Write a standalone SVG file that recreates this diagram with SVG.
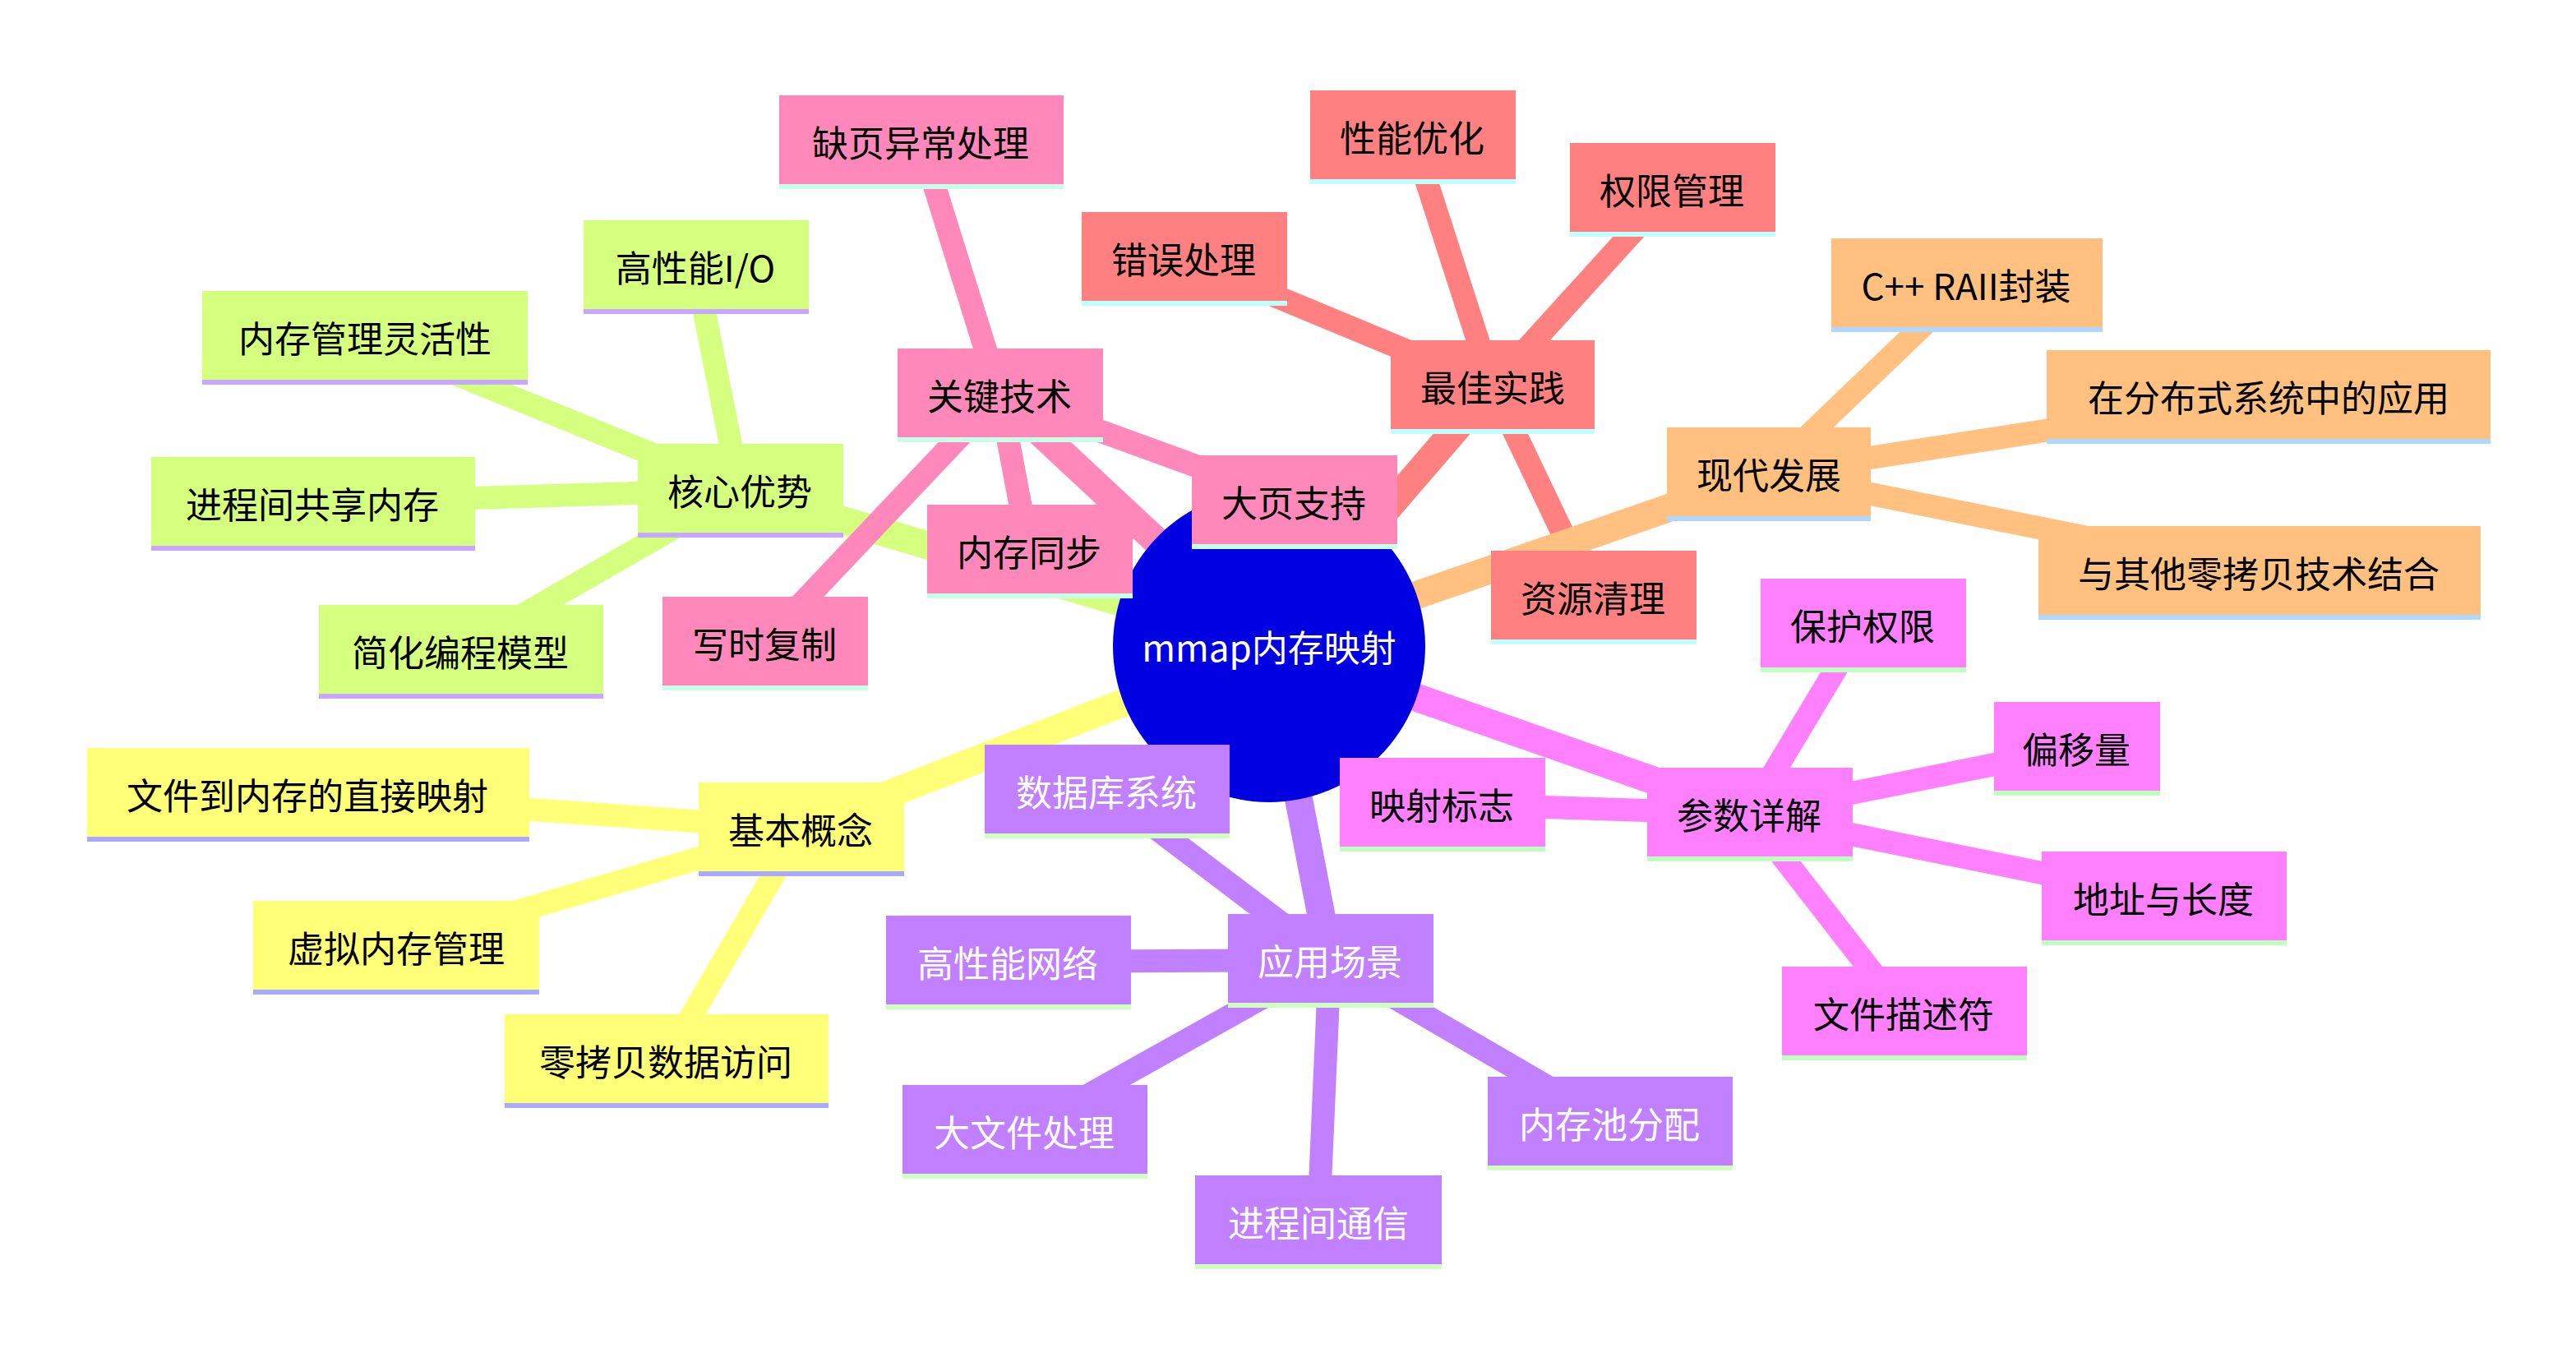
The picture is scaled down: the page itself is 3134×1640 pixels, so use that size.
<svg xmlns="http://www.w3.org/2000/svg" width="3134" height="1640" viewBox="0 0 3134 1640">
<style>
text{font-family:"Noto Sans CJK SC","Noto Sans",sans-serif;font-size:22px;text-anchor:middle;dominant-baseline:central;fill:#000}
.w{fill:#fff}
.e{fill:none;stroke-linecap:round}
.m{stroke-width:17}
.s{stroke-width:14}
</style>
<rect width="3134" height="1640" fill="#fff"/>
<g transform="scale(2)">
<g id="connectors">
<g stroke="#ffff78" class="e"><path class="m" d="M772,393L487,504"/><path class="s" d="M487,504L187,483M487,504L241,576M487,504L405,645"/></g>
<g stroke="#d4ff7f" class="e"><path class="m" d="M772,393L450,298"/><path class="s" d="M450,298L423,162M450,298L222,205M450,298L190,306M450,298L280,396"/></g>
<g stroke="#ff88bb" class="e"><path class="m" d="M772,393L608,240"/><path class="s" d="M608,240L560,86M608,240L626,335M608,240L465,391M608,240L787,305"/></g>
<g stroke="#ff8080" class="e"><path class="m" d="M772,393L908,235"/><path class="s" d="M908,235L720,157M908,235L859,83M908,235L1017,115M908,235L969,363"/></g>
<g stroke="#ffc080" class="e"><path class="m" d="M772,393L1076,288"/><path class="s" d="M1076,288L1196,173M1076,288L1380,241M1076,288L1374,348"/></g>
<g stroke="#ff80ff" class="e"><path class="m" d="M772,393L1064,495"/><path class="s" d="M1064,495L1133,380M1064,495L1263,455M1064,495L1316,546M1064,495L1158,616M1064,495L877,489"/></g>
<g stroke="#c080ff" class="e"><path class="m" d="M772,393L809,584"/><path class="s" d="M809,584L673,481M809,584L613,585M809,584L623,688M809,584L802,743M809,584L979,683"/></g>
</g>
<g id="center"><circle cx="772" cy="393" r="95" fill="#0000e0"/><text x="772" y="393" class="w">mmap内存映射</text></g>
<g id="yellow" fill="#ffff78">
<g id="n1"><rect x="425" y="476" width="125" height="56"/><rect x="425" y="530" width="125" height="3" fill="#aaaaff"/><text x="487" y="504">基本概念</text></g>
<g id="n1a"><rect x="53" y="455" width="269" height="56"/><rect x="53" y="509" width="269" height="3" fill="#aaaaff"/><text x="187" y="483">文件到内存的直接映射</text></g>
<g id="n1b"><rect x="154" y="548" width="174" height="56"/><rect x="154" y="602" width="174" height="3" fill="#aaaaff"/><text x="241" y="576">虚拟内存管理</text></g>
<g id="n1c"><rect x="307" y="617" width="197" height="56"/><rect x="307" y="671" width="197" height="3" fill="#aaaaff"/><text x="405" y="645">零拷贝数据访问</text></g>
</g>
<g id="green" fill="#d4ff7f">
<g id="n2"><rect x="388" y="270" width="125" height="56"/><rect x="388" y="324" width="125" height="3" fill="#c8a8ff"/><text x="450" y="298">核心优势</text></g>
<g id="n2a"><rect x="355" y="134" width="137" height="56"/><rect x="355" y="188" width="137" height="3" fill="#c8a8ff"/><text x="423" y="162">高性能I/O</text></g>
<g id="n2b"><rect x="123" y="177" width="198" height="56"/><rect x="123" y="231" width="198" height="3" fill="#c8a8ff"/><text x="222" y="205">内存管理灵活性</text></g>
<g id="n2c"><rect x="92" y="278" width="197" height="56"/><rect x="92" y="332" width="197" height="3" fill="#c8a8ff"/><text x="190" y="306">进程间共享内存</text></g>
<g id="n2d"><rect x="194" y="368" width="173" height="56"/><rect x="194" y="422" width="173" height="3" fill="#c8a8ff"/><text x="280" y="396">简化编程模型</text></g>
</g>
<g id="pink" fill="#ff88bb">
<g id="n3"><rect x="546" y="212" width="125" height="56"/><rect x="546" y="266" width="125" height="3" fill="#c8ffe8"/><text x="608" y="240">关键技术</text></g>
<g id="n3a"><rect x="474" y="58" width="173" height="56"/><rect x="474" y="112" width="173" height="3" fill="#c8ffe8"/><text x="560" y="86">缺页异常处理</text></g>
<g id="n3b"><rect x="564" y="307" width="125" height="56"/><rect x="564" y="361" width="125" height="3" fill="#c8ffe8"/><text x="626" y="335">内存同步</text></g>
<g id="n3c"><rect x="403" y="363" width="125" height="56"/><rect x="403" y="417" width="125" height="3" fill="#c8ffe8"/><text x="465" y="391">写时复制</text></g>
<g id="n3d"><rect x="725" y="277" width="125" height="56"/><rect x="725" y="331" width="125" height="3" fill="#c8ffe8"/><text x="787" y="305">大页支持</text></g>
</g>
<g id="salmon" fill="#ff8080">
<g id="n4"><rect x="846" y="207" width="124" height="56"/><rect x="846" y="261" width="124" height="3" fill="#c0ffff"/><text x="908" y="235">最佳实践</text></g>
<g id="n4a"><rect x="658" y="129" width="125" height="56"/><rect x="658" y="183" width="125" height="3" fill="#c0ffff"/><text x="720" y="157">错误处理</text></g>
<g id="n4b"><rect x="797" y="55" width="125" height="56"/><rect x="797" y="109" width="125" height="3" fill="#c0ffff"/><text x="859" y="83">性能优化</text></g>
<g id="n4c"><rect x="955" y="87" width="125" height="56"/><rect x="955" y="141" width="125" height="3" fill="#c0ffff"/><text x="1017" y="115">权限管理</text></g>
<g id="n4d"><rect x="907" y="335" width="125" height="56"/><rect x="907" y="389" width="125" height="3" fill="#c0ffff"/><text x="969" y="363">资源清理</text></g>
</g>
<g id="orange" fill="#ffc080">
<g id="n5"><rect x="1014" y="260" width="124" height="56"/><rect x="1014" y="314" width="124" height="3" fill="#b0d8ff"/><text x="1076" y="288">现代发展</text></g>
<g id="n5a"><rect x="1114" y="145" width="165" height="56"/><rect x="1114" y="199" width="165" height="3" fill="#b0d8ff"/><text x="1196" y="173">C++ RAII封装</text></g>
<g id="n5b"><rect x="1245" y="213" width="270" height="56"/><rect x="1245" y="267" width="270" height="3" fill="#b0d8ff"/><text x="1380" y="241">在分布式系统中的应用</text></g>
<g id="n5c"><rect x="1240" y="320" width="269" height="56"/><rect x="1240" y="374" width="269" height="3" fill="#b0d8ff"/><text x="1374" y="348">与其他零拷贝技术结合</text></g>
</g>
<g id="magenta" fill="#ff80ff">
<g id="n6"><rect x="1002" y="467" width="125" height="56"/><rect x="1002" y="521" width="125" height="3" fill="#c0ffc0"/><text x="1064" y="495">参数详解</text></g>
<g id="n6a"><rect x="1071" y="352" width="125" height="56"/><rect x="1071" y="406" width="125" height="3" fill="#c0ffc0"/><text x="1133" y="380">保护权限</text></g>
<g id="n6b"><rect x="1213" y="427" width="101" height="56"/><rect x="1213" y="481" width="101" height="3" fill="#c0ffc0"/><text x="1263" y="455">偏移量</text></g>
<g id="n6c"><rect x="1242" y="518" width="149" height="56"/><rect x="1242" y="572" width="149" height="3" fill="#c0ffc0"/><text x="1316" y="546">地址与长度</text></g>
<g id="n6d"><rect x="1084" y="588" width="149" height="56"/><rect x="1084" y="642" width="149" height="3" fill="#c0ffc0"/><text x="1158" y="616">文件描述符</text></g>
<g id="n6e"><rect x="815" y="461" width="125" height="56"/><rect x="815" y="515" width="125" height="3" fill="#c0ffc0"/><text x="877" y="489">映射标志</text></g>
</g>
<g id="purple" fill="#c080ff">
<g id="n7"><rect x="747" y="556" width="125" height="56"/><rect x="747" y="610" width="125" height="3" fill="#d0ffc0"/><text x="809" y="584" class="w">应用场景</text></g>
<g id="n7a"><rect x="599" y="453" width="149" height="56"/><rect x="599" y="507" width="149" height="3" fill="#d0ffc0"/><text x="673" y="481" class="w">数据库系统</text></g>
<g id="n7b"><rect x="539" y="557" width="149" height="56"/><rect x="539" y="611" width="149" height="3" fill="#d0ffc0"/><text x="613" y="585" class="w">高性能网络</text></g>
<g id="n7c"><rect x="549" y="660" width="149" height="56"/><rect x="549" y="714" width="149" height="3" fill="#d0ffc0"/><text x="623" y="688" class="w">大文件处理</text></g>
<g id="n7d"><rect x="727" y="715" width="150" height="56"/><rect x="727" y="769" width="150" height="3" fill="#d0ffc0"/><text x="802" y="743" class="w">进程间通信</text></g>
<g id="n7e"><rect x="905" y="655" width="149" height="56"/><rect x="905" y="709" width="149" height="3" fill="#d0ffc0"/><text x="979" y="683" class="w">内存池分配</text></g>
</g>
</g>
</svg>
